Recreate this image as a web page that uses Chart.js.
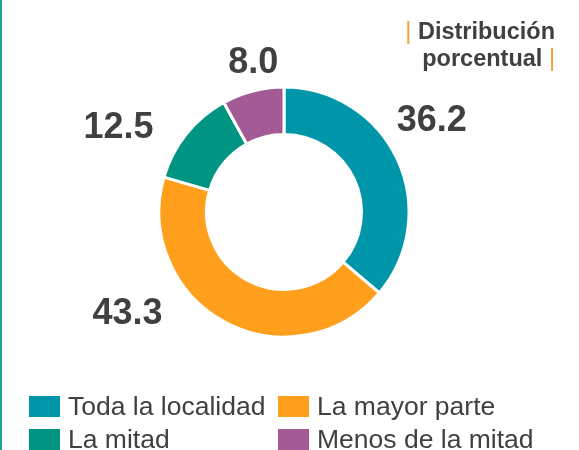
<!DOCTYPE html>
<html>
<head>
<meta charset="utf-8">
<script src="https://cdn.jsdelivr.net/npm/chart.js@4/dist/chart.umd.min.js"></script>
<style>
  html, body { margin: 0; padding: 0; background: #fff; }
  body { width: 579px; height: 450px; position: relative; overflow: hidden;
         font-family: "Liberation Sans", Arial, sans-serif; color: #404040; }
  #edge { position: absolute; left: 0; top: 0; width: 2px; height: 450px; background: #1fa38c; }
  #chart { position: absolute; left: 0; top: 0; }
  #tag { position: absolute; right: 24px; top: 18px; text-align: right;
         font-weight: bold; font-size: 23.5px; line-height: 27px; }
  #tag .bar { color: #f59e3a; font-weight: normal; }
  #legend { position: absolute; left: 29px; top: 390px; display: grid;
            grid-template-columns: 249px 260px; row-gap: 1px; font-size: 26.5px; line-height: 32px; }
  .item { display: flex; align-items: center; white-space: nowrap; }
  .box { width: 31px; height: 21px; margin-right: 8px; }
</style>
</head>
<body>
<div id="edge"></div>
<canvas id="chart" width="579" height="450"></canvas>
<div id="tag"><span class="bar">|</span> Distribución<br>porcentual <span class="bar">|</span></div>
<div id="legend"></div>
<script>
// Data
const categories = ['Toda la localidad', 'La mayor parte', 'La mitad', 'Menos de la mitad'];
const shares = [36.2, 43.3, 12.5, 8.0];
const colors = ['#0096aa', '#ff9f1c', '#009482', '#a35a95'];

// label placement tweaks (degrees off the slice middle, px beyond the ring)
const labelNudge = [-7.5, 29.5, -11, 3];
const labelGap = [50, 60, 62, 30];

const outsideLabels = {
    id: 'outsideLabels',
    afterDatasetsDraw(chart) {
        const ctx = chart.ctx;
        const meta = chart.getDatasetMeta(0);
        ctx.save();
        ctx.font = 'bold 36px "Liberation Sans", Arial, sans-serif';
        ctx.fillStyle = '#404040';
        ctx.textAlign = 'center';
        ctx.textBaseline = 'alphabetic';
        meta.data.forEach((arc, i) => {
            const p = arc.getProps(['x', 'y', 'startAngle', 'endAngle', 'outerRadius']);
            const a = (p.startAngle + p.endAngle) / 2 + labelNudge[i] * Math.PI / 180;
            const r = p.outerRadius + labelGap[i];
            ctx.fillText(shares[i].toFixed(1), p.x + r * Math.cos(a), p.y + r * Math.sin(a) + 13);
        });
        ctx.restore();
    }
};

new Chart(document.getElementById('chart'), {
    type: 'doughnut',
    data: {
        labels: categories,
        datasets: [{
            data: shares,
            backgroundColor: colors,
            borderColor: '#ffffff',
            borderWidth: 3
        }]
    },
    options: {
        responsive: false,
        animation: false,
        cutout: '62%',
        layout: { padding: { left: 157.5, right: 168.5, top: 85.5, bottom: 111.5 } },
        plugins: {
            legend: { display: false },
            tooltip: { enabled: false }
        }
    },
    plugins: [outsideLabels]
});

// legend in two fixed columns
document.getElementById('legend').innerHTML = categories.map((c, i) => `
    <div class="item"><span class="box" style="background:${colors[i]}"></span>${c}</div>
`).join('');
</script>
</body>
</html>
